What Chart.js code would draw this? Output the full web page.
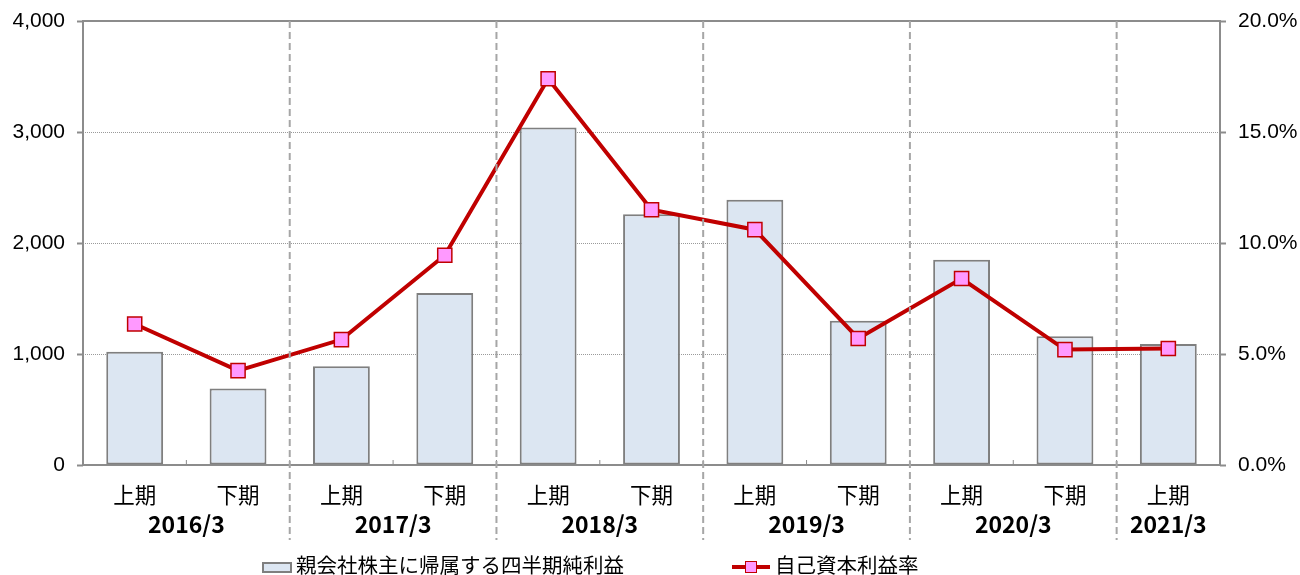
<!DOCTYPE html>
<html>
<head>
<meta charset="utf-8">
<script src="https://cdn.jsdelivr.net/npm/chart.js@4"></script>
<style>
  body { margin: 0; background: #fff; }
  #wrap { position: relative; width: 1300px; height: 575px; overflow: hidden; }
  .lg { position: absolute; top: 551px; height: 26px; line-height: 26px; font-family: "Noto Sans CJK JP", sans-serif; font-size: 20.5px; color: #000; white-space: nowrap; }
</style>
</head>
<body>
<div id="wrap">
  <canvas id="chart" width="1300" height="575"></canvas>
  <div class="lg" style="left:262px;">
    <span style="display:inline-block;width:26px;height:7px;border:2px solid #7f7f7f;background:#dce6f2;vertical-align:middle;margin-right:4px;"></span>親会社株主に帰属する四半期純利益
  </div>
  <div class="lg" style="left:732px;">
    <span style="display:inline-block;position:relative;width:38px;height:14px;vertical-align:middle;margin-right:5px;">
      <span style="position:absolute;left:0;top:5px;width:38px;height:4px;background:#c00000;"></span>
      <span style="position:absolute;left:13px;top:1px;width:10px;height:10px;border:1.5px solid #c00000;background:#ff99ff;"></span>
    </span>自己資本利益率
  </div>
</div>
<script>
var categories = ['上期', '下期', '上期', '下期', '上期', '下期', '上期', '下期', '上期', '下期', '上期'];
var years = ['2016/3', '2017/3', '2018/3', '2019/3', '2020/3', '2021/3'];
var profit = [1020, 690, 890, 1550, 3040, 2260, 2390, 1300, 1850, 1160, 1090];
var roe = [6.35, 4.25, 5.65, 9.45, 17.4, 11.5, 10.6, 5.7, 8.4, 5.2, 5.25];

var numFont = { family: 'Liberation Sans, Arial, sans-serif', size: 21 };

// frame, separators and year labels
var extras = {
    id: 'extras',
    beforeDatasetsDraw: function(chart) {
        var ctx = chart.ctx, a = chart.chartArea, x = chart.scales.x;
        ctx.save();
        ctx.strokeStyle = '#8c8c8c';
        ctx.lineWidth = 2;
        ctx.strokeRect(a.left, a.top, a.right - a.left, a.bottom - a.top);
        // small ticks between categories
        ctx.lineWidth = 1;
        for (var i = 1; i < categories.length; i++) {
            var px = (x.getPixelForValue(i - 1) + x.getPixelForValue(i)) / 2;
            ctx.beginPath();
            ctx.moveTo(px, a.bottom);
            ctx.lineTo(px, a.bottom - 5);
            ctx.stroke();
        }
        ctx.restore();
    },
    afterDatasetsDraw: function(chart) {
        var ctx = chart.ctx, a = chart.chartArea, x = chart.scales.x;
        ctx.save();
        ctx.strokeStyle = '#a6a6a6';
        ctx.lineWidth = 2;
        ctx.setLineDash([7, 4]);
        for (var k = 1; k < years.length; k++) {
            var px = (x.getPixelForValue(2 * k - 1) + x.getPixelForValue(2 * k)) / 2;
            ctx.beginPath();
            ctx.moveTo(px, a.top);
            ctx.lineTo(px, 540);
            ctx.stroke();
        }
        ctx.setLineDash([]);
        ctx.fillStyle = '#000';
        ctx.font = 'bold 23px "Noto Sans CJK JP", sans-serif';
        ctx.textAlign = 'center';
        ctx.textBaseline = 'middle';
        years.forEach(function(y, k) {
            var i0 = 2 * k, i1 = Math.min(2 * k + 1, categories.length - 1);
            var cx = (x.getPixelForValue(i0) + x.getPixelForValue(i1)) / 2;
            ctx.fillText(y, cx, 524);
        });
        ctx.restore();
    }
};

var fitY = function(w) {
    return function(s) { s.width = w; s.paddingTop = 0; s.paddingBottom = 0; };
};

new Chart(document.getElementById('chart'), {
    type: 'bar',
    data: {
        labels: categories,
        datasets: [{
            label: '自己資本利益率',
            type: 'line',
            data: roe,
            yAxisID: 'y1',
            order: 0,
            borderColor: '#c00000',
            borderWidth: 4,
            tension: 0,
            fill: false,
            pointStyle: 'rect',
            pointRadius: 10,
            pointHoverRadius: 10,
            pointBackgroundColor: '#ff99ff',
            pointBorderColor: '#c00000',
            pointBorderWidth: 1.5
        }, {
            label: '親会社株主に帰属する四半期純利益',
            type: 'bar',
            data: profit,
            yAxisID: 'y',
            order: 1,
            backgroundColor: '#dce6f2',
            borderColor: '#7f7f7f',
            borderWidth: 2,
            borderSkipped: false,
            categoryPercentage: 1,
            barPercentage: 0.55
        }]
    },
    options: {
        responsive: false,
        animation: false,
        layout: { padding: { top: 21, left: 0, right: 0, bottom: 0 } },
        plugins: { legend: { display: false }, tooltip: { enabled: false } },
        scales: {
            x: {
                offset: true,
                grid: { display: false },
                border: { display: false },
                ticks: { color: '#000', font: { family: '"Noto Sans CJK JP", sans-serif', size: 21.5 }, padding: 9, maxRotation: 0 },
                afterFit: function(s) { s.height = 110; s.paddingLeft = 0; s.paddingRight = 0; }
            },
            y: {
                position: 'left',
                min: 0, max: 4000,
                ticks: {
                    stepSize: 1000, color: '#000', font: numFont, padding: 12,
                    callback: function(v) { return v.toLocaleString('en-US'); }
                },
                border: { display: false, dash: [1, 1] },
                grid: {
                    color: function(c) { return (c.tick && (c.tick.value === 0 || c.tick.value === 4000)) ? 'rgba(0,0,0,0)' : '#9a9a9a'; },
                    lineWidth: 1,
                    tickColor: '#8c8c8c',
                    tickLength: 6,
                    tickWidth: 2
                },
                afterFit: fitY(83)
            },
            y1: {
                position: 'right',
                min: 0, max: 20,
                ticks: {
                    stepSize: 5, color: '#000', font: numFont, padding: 12,
                    callback: function(v) { return v.toFixed(1) + '%'; }
                },
                border: { display: false },
                grid: { drawOnChartArea: false, tickColor: '#8c8c8c', tickLength: 6, tickWidth: 2 },
                afterFit: fitY(80)
            }
        }
    },
    plugins: [extras]
});
</script>
</body>
</html>
